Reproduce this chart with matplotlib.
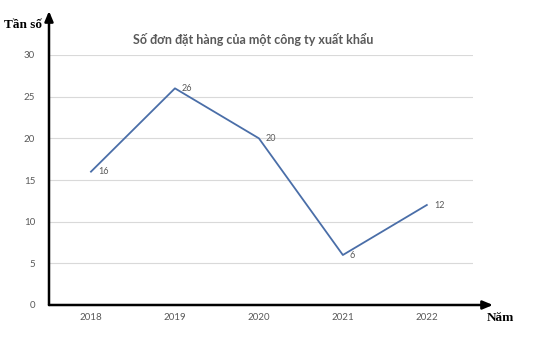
import matplotlib.pyplot as plt

# ....... Data ........
years = ['2018', '2019', '2020', '2021', '2022']
orders = [16, 26, 20, 6, 12]
y_ticks = [0, 5, 10, 15, 20, 25, 30]

title = 'Số đơn đặt hàng của một công ty xuất khẩu'
y_name = 'Tần số'
x_name = 'Năm'

grey_text = '#595959'
line_colour = '#4a6ea8'

plt.rcParams['font.family'] = ['Lato', 'DejaVu Sans']

fig = plt.figure(figsize=(5.37, 3.38), dpi=100)
W, H = 537, 338

# axes box in pixels: left 49, right 473, bottom at y=305, top (value 30) at y=55
ax = fig.add_axes([49 / W, (H - 305) / H, (473 - 49) / W, (305 - 55) / H])

x = list(range(len(years)))
ax.plot(x, orders, color=line_colour, linewidth=1.3, zorder=3)

# data labels to the right of each point
for xi, v in zip(x, orders):
    ax.annotate(str(v), (xi, v), xytext=(5, 0), textcoords='offset points',
                ha='left', va='center', fontsize=6.5, color=grey_text)

ax.set_xlim(-0.5, 4.55)
ax.set_ylim(0, 30)
ax.set_yticks(y_ticks)
ax.set_xticks(x)
ax.set_xticklabels(years)
ax.tick_params(axis='both', length=0, labelsize=7, labelcolor=grey_text)
ax.tick_params(axis='y', pad=10)
ax.tick_params(axis='x', pad=6)
ax.grid(axis='y', color='#d9d9d9', linewidth=0.8)
ax.set_axisbelow(True)
for s in ax.spines.values():
    s.set_visible(False)

# thick black axes with arrow heads
ax.annotate('', xy=(0, (305 - 11) / 250), xytext=(0, 0),
            xycoords='axes fraction', textcoords='axes fraction',
            arrowprops=dict(arrowstyle='-|>,head_length=0.6,head_width=0.25',
                            color='black', lw=1.8, shrinkA=0, shrinkB=0),
            annotation_clip=False)
ax.annotate('', xy=((493 - 49) / 424, 0), xytext=(0, 0),
            xycoords='axes fraction', textcoords='axes fraction',
            arrowprops=dict(arrowstyle='-|>,head_length=0.6,head_width=0.25',
                            color='black', lw=1.8, shrinkA=0, shrinkB=0),
            annotation_clip=False)

fig.text(253 / W, 1 - 39 / H, title, ha='center', va='center',
         fontsize=9, fontweight='bold', color=grey_text)
fig.text(23 / W, 1 - 25 / H, y_name, ha='center', va='center',
         fontsize=9.5, fontweight='bold', family='Liberation Serif')
fig.text(500 / W, 1 - 318 / H, x_name, ha='center', va='center',
         fontsize=9.5, fontweight='bold', family='Liberation Serif')

fig.savefig('out.png', dpi=100)
